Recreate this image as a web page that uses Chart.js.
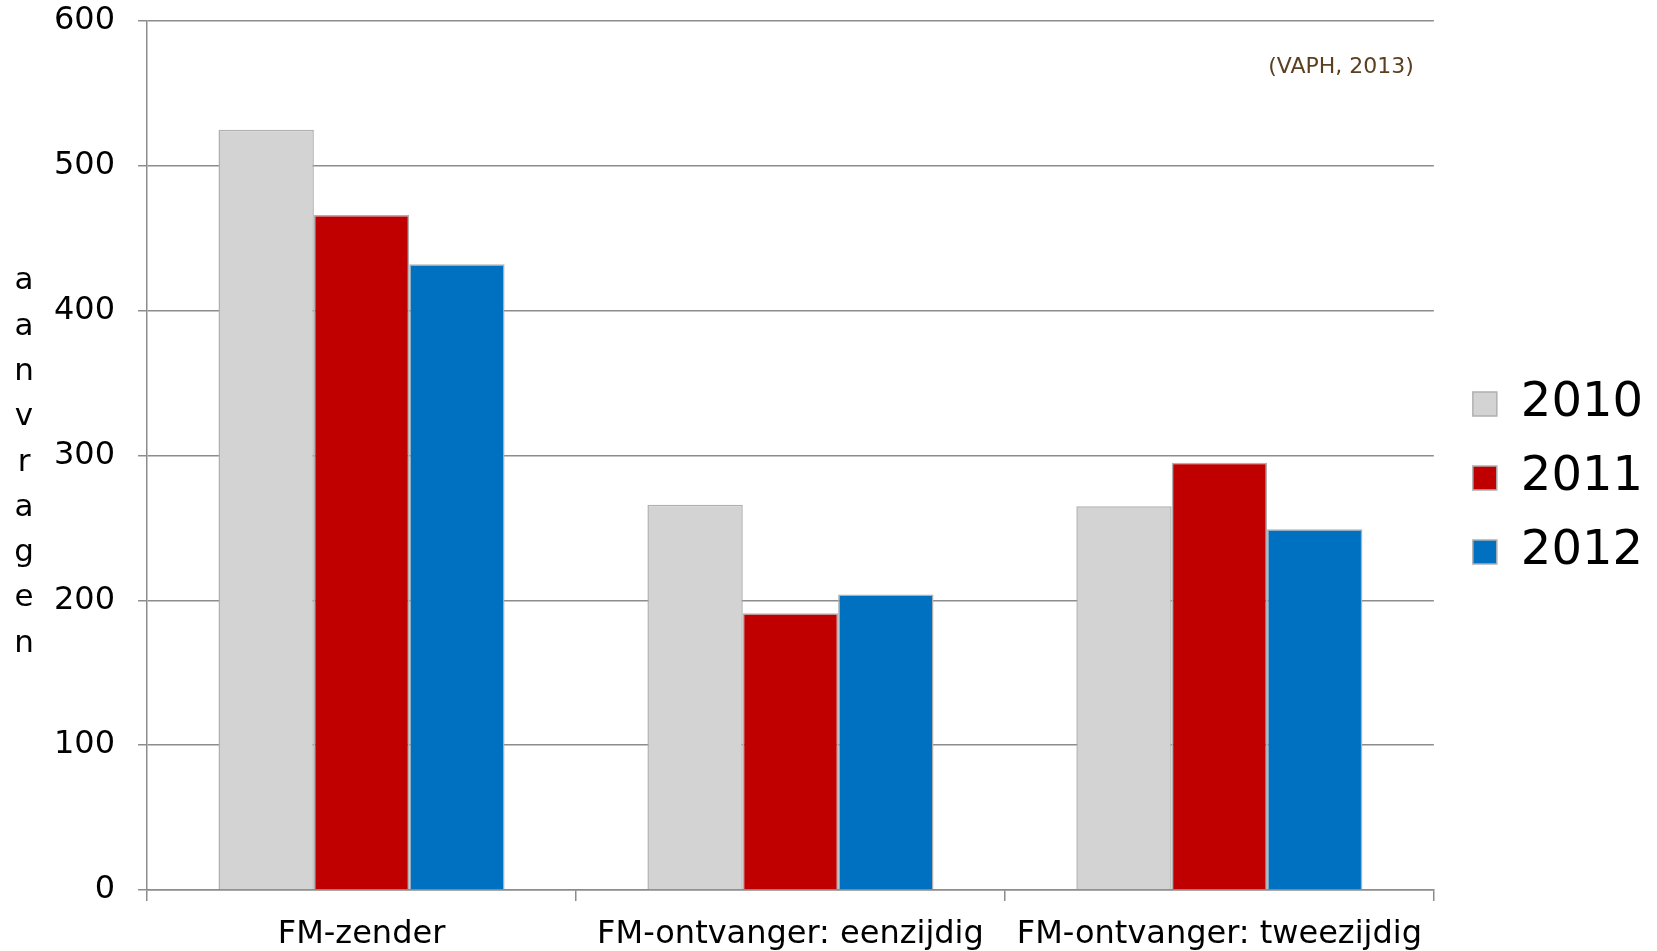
<!DOCTYPE html>
<html>
<head>
<meta charset="utf-8">
<script src="https://cdn.jsdelivr.net/npm/chart.js@4/dist/chart.umd.min.js"></script>
<style>
  body { margin: 0; background: #fff; }
</style>
</head>
<body>
<canvas id="aanvragenChart" width="1657" height="951"></canvas>
<script>
const categories = ['FM-zender', 'FM-ontvanger: eenzijdig', 'FM-ontvanger: tweezijdig'];
const years = ['2010', '2011', '2012'];
const values2010 = [525, 266, 265];
const values2011 = [466, 191, 295];
const values2012 = [432, 204, 249];
const yTicks = [0, 100, 200, 300, 400, 500, 600];
const yTitle = 'aanvragen';
const sourceNote = '(VAPH, 2013)';

const font = "'DejaVu Sans', Verdana, sans-serif";

// verticale as-titel: letters onder elkaar + bronvermelding rechtsboven
const extraText = {
  id: 'extraText',
  afterDraw(chart) {
    const ctx = chart.ctx;
    const area = chart.chartArea;
    ctx.save();
    ctx.fillStyle = '#000';
    ctx.font = '31px ' + font;
    ctx.textAlign = 'center';
    ctx.textBaseline = 'middle';
    const step = 45.3;
    const mid = (area.top + area.bottom) / 2 + 7;
    const start = mid - step * (yTitle.length - 1) / 2;
    yTitle.split('').forEach((ch, i) => ctx.fillText(ch, 24, start + i * step));

    ctx.fillStyle = '#5b3f1f';
    ctx.font = '22px ' + font;
    ctx.textAlign = 'right';
    ctx.fillText(sourceNote, area.right - 20, 67);
    ctx.restore();
  }
};

const border = '#b0b0b0';

new Chart(document.getElementById('aanvragenChart').getContext('2d'), {
  type: 'bar',
  data: {
    labels: categories,
    datasets: [
      { label: years[0], data: values2010, backgroundColor: '#d3d3d3', borderColor: border, borderWidth: 1.5 },
      { label: years[1], data: values2011, backgroundColor: '#c00000', borderColor: border, borderWidth: 1.5 },
      { label: years[2], data: values2012, backgroundColor: '#0070c0', borderColor: border, borderWidth: 1.5 }
    ]
  },
  options: {
    responsive: false,
    animation: false,
    layout: { padding: { left: 31, top: 5, bottom: 0, right: 4 } },
    datasets: { bar: { categoryPercentage: 0.667, barPercentage: 1.0 } },
    plugins: {
      legend: {
        position: 'right',
        labels: {
          color: '#000',
          font: { family: font, size: 48 },
          boxWidth: 24,
          boxHeight: 24,
          padding: 26
        }
      },
      tooltip: { enabled: false }
    },
    scales: {
      x: {
        grid: { offset: true, drawOnChartArea: false, color: '#8c8c8c', lineWidth: 1.5, tickLength: 11 },
        border: { color: '#8c8c8c', width: 1.5 },
        ticks: { color: '#000', font: { family: font, size: 32, lineHeight: 1.0 }, padding: 18, maxRotation: 0 },
        afterFit: (axis) => { axis.height = 61; axis.paddingLeft = 0; axis.paddingRight = 0; }
      },
      y: {
        min: 0,
        max: 600,
        afterBuildTicks: (axis) => { axis.ticks = yTicks.map(v => ({ value: v })); },
        grid: { color: '#8c8c8c', lineWidth: 1.5, tickLength: 9 },
        border: { color: '#8c8c8c', width: 1.5 },
        ticks: { color: '#000', font: { family: font, size: 32 }, padding: 23 },
        afterFit: (axis) => { axis.paddingTop = 21; axis.paddingBottom = 0; }
      },
      // lege as rechts: alleen ruimte tussen plotvlak en legenda
      gap: {
        type: 'linear',
        position: 'right',
        display: true,
        grid: { display: false },
        border: { display: false },
        ticks: { display: false },
        afterFit: (axis) => { axis.width = 13; }
      }
    }
  },
  plugins: [extraText]
});
</script>
</body>
</html>
